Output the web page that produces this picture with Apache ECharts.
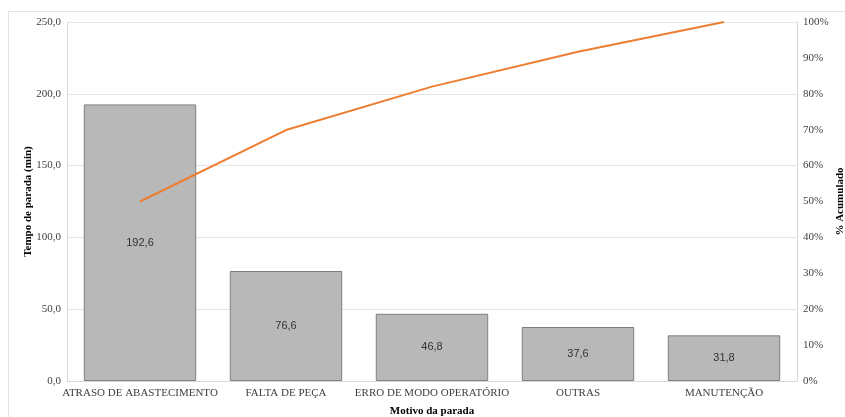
<!DOCTYPE html>
<html><head><meta charset="utf-8">
<script src="https://cdn.jsdelivr.net/npm/echarts@6/dist/echarts.min.js"></script>
<style>html,body{margin:0;padding:0;background:#fff}#c{width:845px;height:417px}</style>
</head><body><div id="c"></div>
<script>
const categories = ['ATRASO DE ABASTECIMENTO','FALTA DE PEÇA','ERRO DE MODO OPERATÓRIO','OUTRAS','MANUTENÇÃO'];
const tempo = [192.6, 76.6, 46.8, 37.6, 31.8];
const acumulado = [50.0, 69.9, 82.0, 91.7, 100.0];
const serif = 'Liberation Serif';
const chart = echarts.init(document.getElementById('c'));
chart.setOption({
  animation:false,
  graphic:[{type:'rect',shape:{x:8.5,y:11.5,width:845,height:420},style:{fill:'none',stroke:'#e3e3e3',lineWidth:1},silent:true}],
  grid:{left:67,right:48,top:22,bottom:36,outerBoundsMode:'none',containLabel:false},
  xAxis:{type:'category',data:categories,
    axisLine:{show:true,lineStyle:{color:'#d9d9d9'}},axisTick:{show:false},
    axisLabel:{fontFamily:serif,fontSize:11,color:'#404040',margin:7,interval:0},
    name:'Motivo da parada',nameLocation:'middle',nameGap:25,
    nameTextStyle:{fontFamily:serif,fontSize:11,fontWeight:'bold',color:'#000'}},
  yAxis:[{type:'value',min:0,max:250,interval:50,
    axisLine:{show:true,lineStyle:{color:'#d9d9d9'}},axisTick:{show:false},
    splitLine:{lineStyle:{color:'#e6e6e6'}},
    axisLabel:{fontFamily:serif,fontSize:11,color:'#404040',margin:6,formatter:v=>v.toFixed(1).replace('.',',')},
    name:'Tempo de parada (min)',nameLocation:'middle',nameGap:33,nameMoveOverlap:false,
    nameTextStyle:{fontFamily:serif,fontSize:11,fontWeight:'bold',color:'#000'}},
   {type:'value',min:0,max:100,interval:10,position:'right',
    axisLine:{show:true,lineStyle:{color:'#d9d9d9'}},axisTick:{show:false},splitLine:{show:false},
    axisLabel:{fontFamily:serif,fontSize:11,color:'#404040',margin:6,formatter:'{value}%'},
    name:'% Acumulado',nameLocation:'middle',nameGap:38,nameMoveOverlap:false,
    nameTextStyle:{fontFamily:serif,fontSize:11,fontWeight:'bold',color:'#000'}}],
  series:[{type:'bar',data:tempo,barWidth:'77%',
    itemStyle:{color:'#b8b8b8',borderColor:'#7f7f7f',borderWidth:1},
    label:{show:true,position:'inside',fontFamily:'Liberation Sans',fontSize:11,color:'#333',
      formatter:p=>p.value.toFixed(1).replace('.',',')}},
   {type:'line',yAxisIndex:1,data:acumulado,symbol:'none',
    lineStyle:{color:'#ED7D31',width:2}}]
});
</script></body></html>
